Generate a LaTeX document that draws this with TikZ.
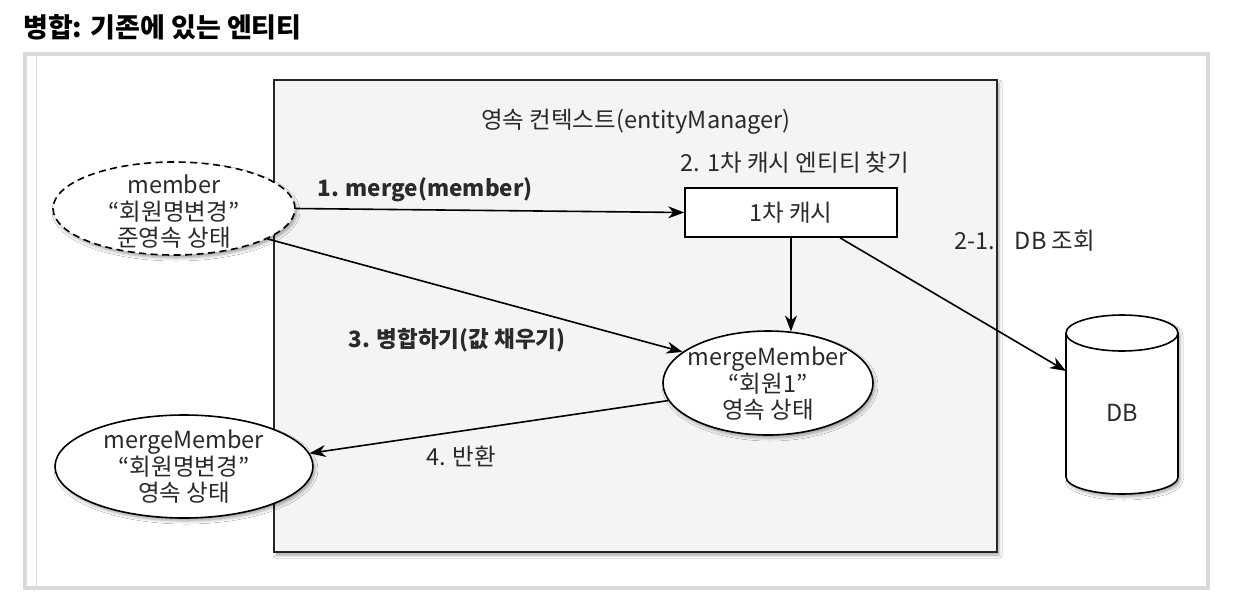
\documentclass[tikz,border=0pt]{standalone}
\usepackage{fontspec}
\setmainfont{Noto Sans CJK KR}
\usetikzlibrary{arrows.meta,shapes.geometric,shadows.blur}
\definecolor{txt}{HTML}{2A2A2A}
\definecolor{ctxfill}{HTML}{F4F4F4}
\definecolor{frame}{HTML}{D9D9D9}
\begin{document}
\begin{tikzpicture}[x=1pt,y=-1pt,
  lbl/.style={text=txt, font=\fontsize{23.5}{26.5}\selectfont, align=center, inner sep=0pt},
  boldlbl/.style={lbl, font=\bfseries\fontsize{22.5}{26.5}\selectfont},
  titlelbl/.style={text=black, font=\bfseries\fontsize{27}{30}\selectfont, inner sep=0pt, anchor=west},
  arr/.style={draw=black, line width=1.6pt, -{Stealth[length=16pt,width=12pt,inset=5pt]}},
  ell/.style={ellipse, draw=black, line width=1.6pt, fill=white, inner sep=0pt},
  shad/.style={blur shadow={shadow xshift=2pt, shadow yshift=-3pt, shadow blur radius=3pt, shadow opacity=35}},
]
\useasboundingbox (0,0) rectangle (1236,603);
\fill[white] (0,0) rectangle (1236,603);
% title
\node[titlelbl] (title) at (23,27) {병합: 기존에 있는 엔티티};
% outer frame
\draw[line width=4.2pt, frame] (24.7,54) rectangle (1208,587.7);
\draw[line width=0.9pt, frame] (36,56) -- (36,585.6);
% persistence context box
\node[draw=black!85, line width=2pt, fill=ctxfill, minimum width=723pt, minimum height=472pt, inner sep=0pt, shad] (pc) at (635.5,316) {};
\node[lbl] (pctitle) at (636,122) {영속 컨텍스트(entityManager)};
% first-level cache
\node[lbl] (findlbl) at (795,163) {2. 1차 캐시 엔티티 찾기};
\node[draw=black, line width=1.6pt, fill=white, minimum width=212pt, minimum height=49pt, inner sep=0pt] (cache) at (791,212.5) {};
\node[lbl] (cachet) at (cache) {1차 캐시};
% merged member in context
\node[ell, minimum width=210pt, minimum height=104pt, shad] (mm) at (768,383) {};
\node[lbl] (mmt) at (768,384) {mergeMember\\“회원1”\\영속 상태};
% detached member
\node[ell, dashed, dash pattern=on 7pt off 4.5pt, minimum width=242pt, minimum height=93pt, shad] (member) at (174,208.5) {};
\node[lbl] (membert) at (174,212) {member\\“회원명변경”\\준영속 상태};
% returned member
\node[ell, minimum width=258pt, minimum height=103pt, shad] (ret) at (184,466.5) {};
\node[lbl] (rett) at (184,467) {mergeMember\\“회원명변경”\\영속 상태};
% DB cylinder
\filldraw[fill=white, line width=1.6pt, shad] (1066,333) -- (1066,477) arc[start angle=180, end angle=0, x radius=56, y radius=17] -- (1178,333) arc[start angle=0, end angle=-180, x radius=56, y radius=18] -- cycle;
\draw[line width=1.6pt] (1066,333) arc[start angle=180, end angle=0, x radius=56, y radius=18];
\node[lbl] (db) at (1122,413) {DB};
\coordinate (dbin) at (1066,371);
\node[lbl, anchor=west] (dblbl) at (954,241) {2-1.\hspace{0.85em}DB 조회};
% arrows
\draw[arr] (member.east) -- (cache.west);
\node[boldlbl] (l1) at (425,190) {1. merge(member)};
\draw[arr] (cache.south -| 791,0) -- (mm.66);
\draw[arr] ([xshift=49pt]cache.south) -- (dbin);
\draw[arr] (member.-18) -- (mm.160);
\node[boldlbl] (l3) at (457,340) {3. 병합하기(값 채우기)};
\draw[arr] (mm.190) -- (ret.6);
\node[lbl] (l4) at (461,456) {4. 반환};
\end{tikzpicture}
\end{document}
